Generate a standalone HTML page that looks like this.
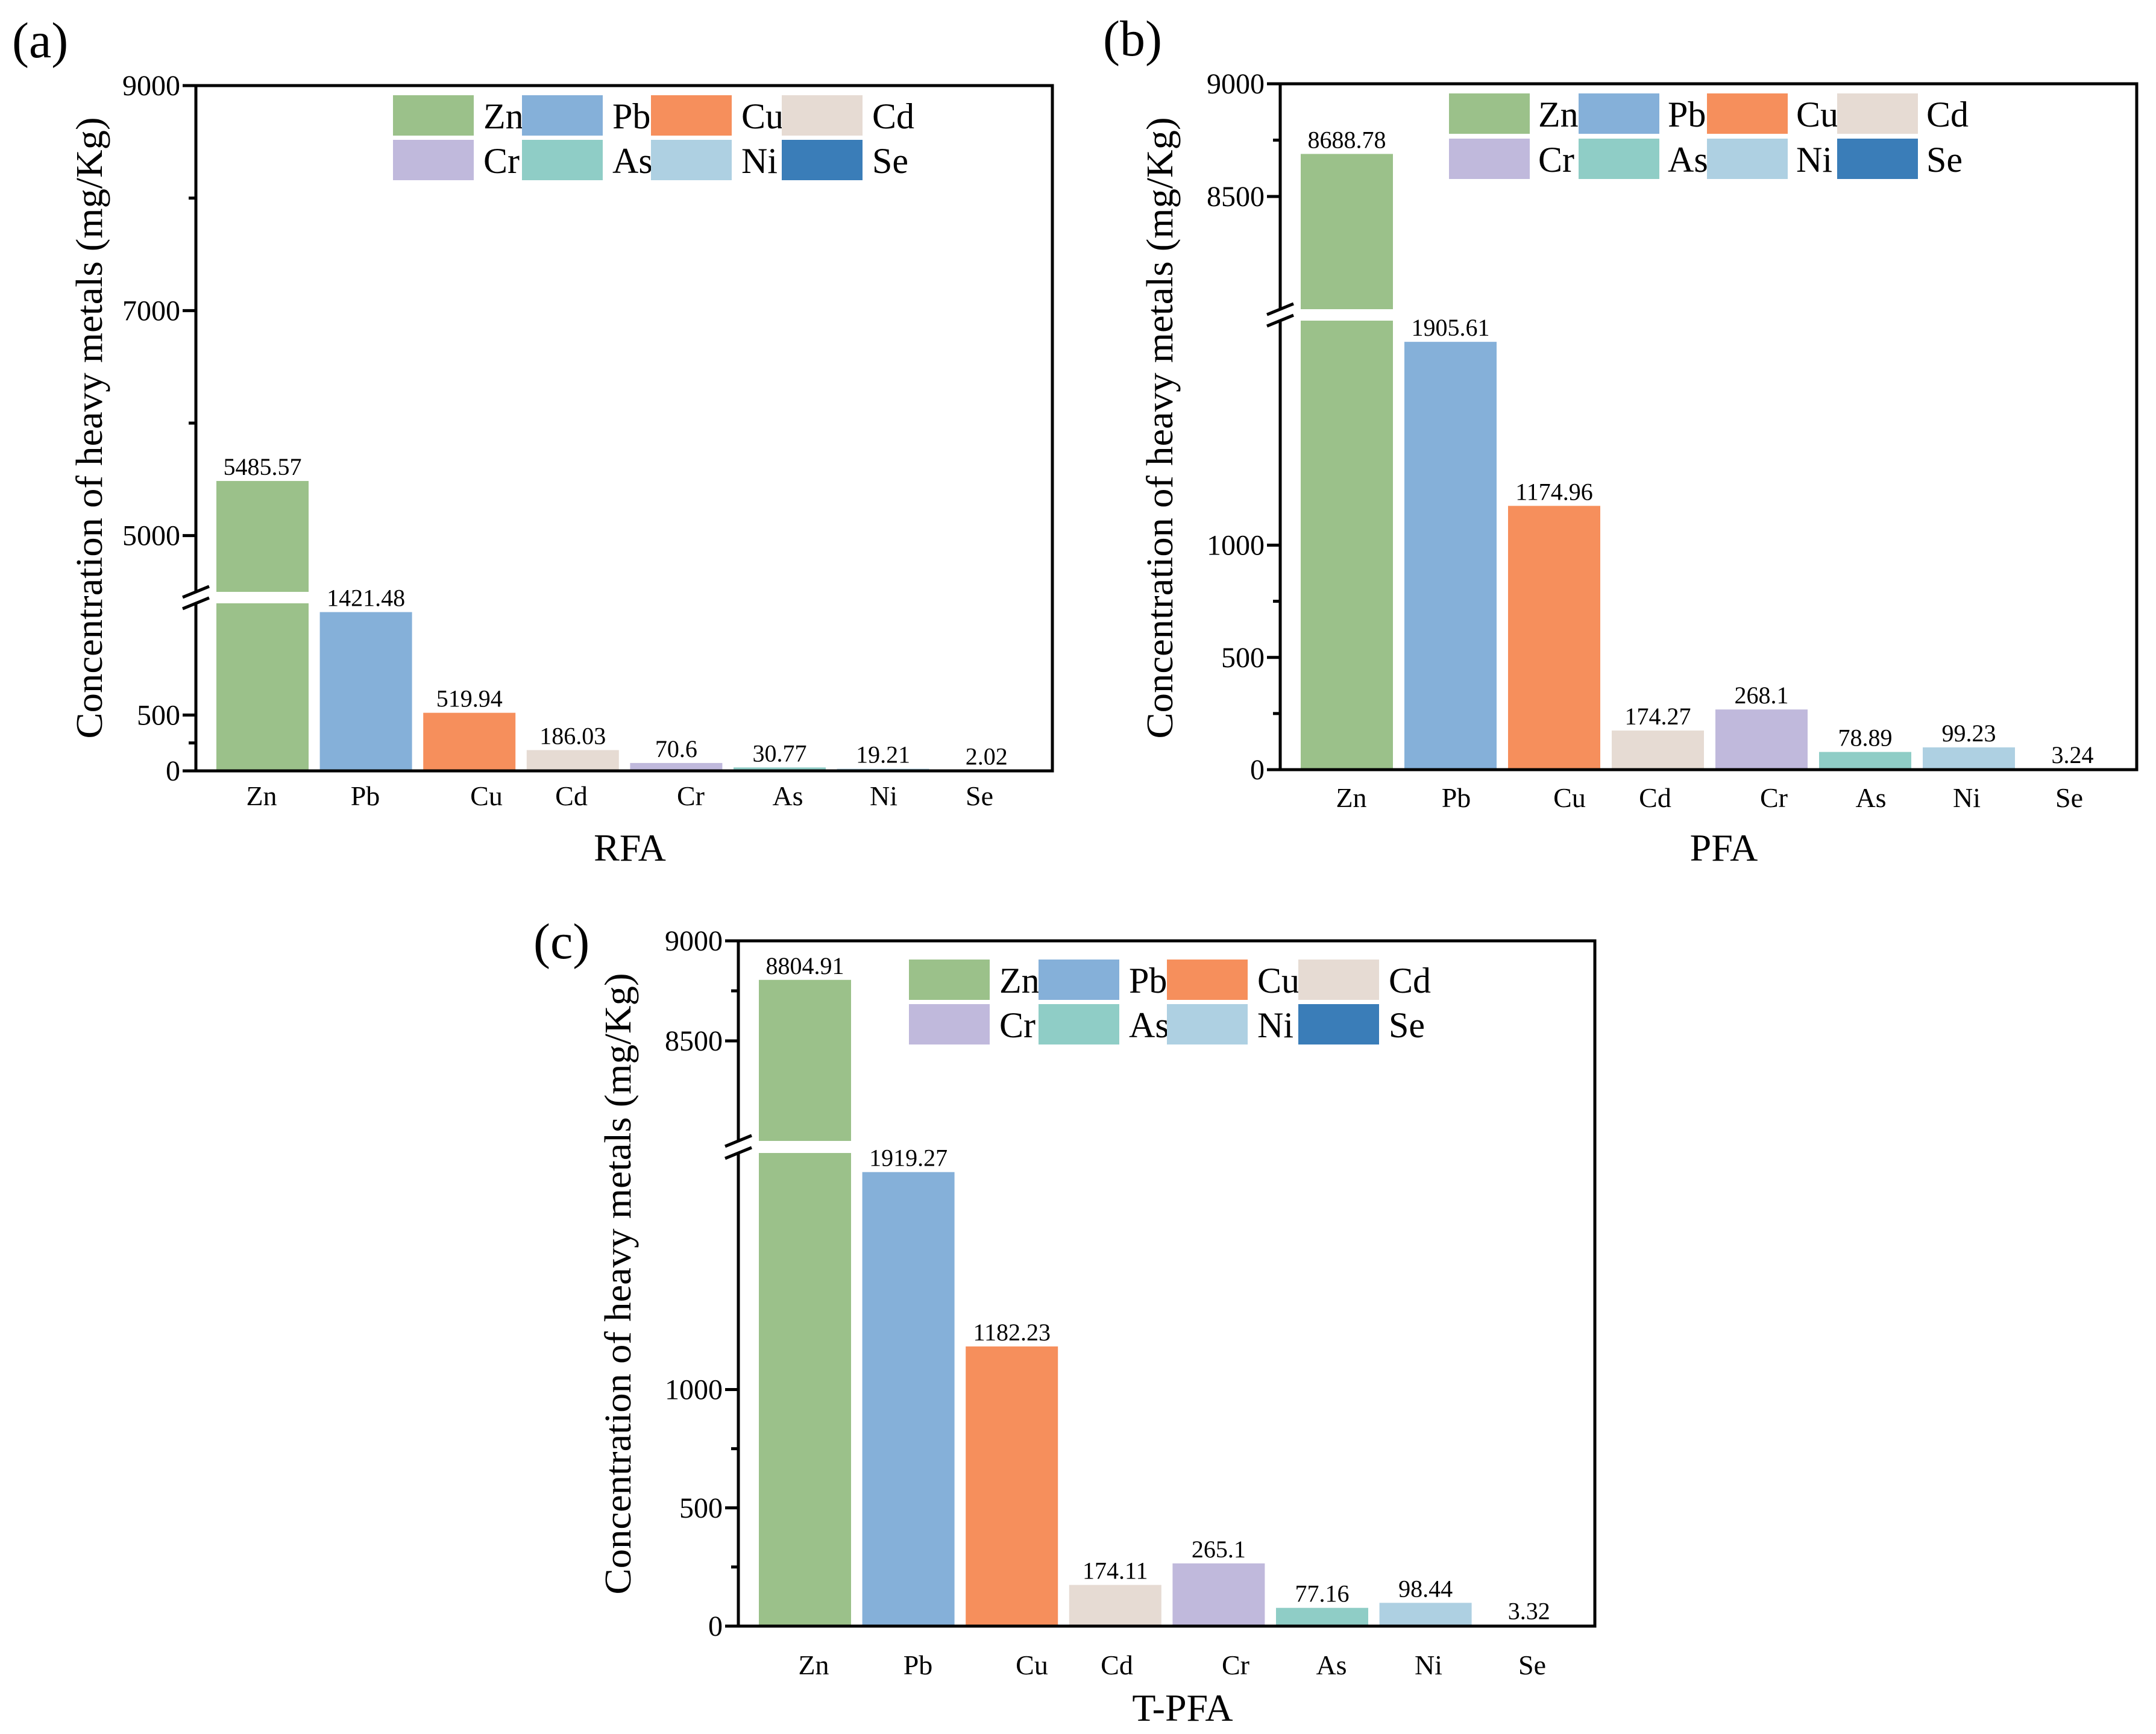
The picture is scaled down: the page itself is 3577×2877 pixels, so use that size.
<!DOCTYPE html>
<html><head><meta charset="utf-8"><style>
html,body{margin:0;padding:0;background:#fff;}
svg{display:block;}
svg text{font-family:"Liberation Serif","Times New Roman",serif;fill:#000;}
</style></head><body>
<svg id="chart" width="3577" height="2877" viewBox="0 0 3577 2877" xmlns="http://www.w3.org/2000/svg"></svg>
<script>
const categories = ["Zn","Pb","Cu","Cd","Cr","As","Ni","Se"];
const colors = ["#9BC18A","#85B0D9","#F68F5C","#E6DBD3","#C0B9DC","#8FCDC6","#AED0E2","#3A7DB8"];
const valuesRFA = [5485.57,1421.48,519.94,186.03,70.6,30.77,19.21,2.02];
const valuesPFA = [8688.78,1905.61,1174.96,174.27,268.1,78.89,99.23,3.24];
const valuesTPFA = [8804.91,1919.27,1182.23,174.11,265.1,77.16,98.44,3.32];
const labelsRFA = ["5485.57","1421.48","519.94","186.03","70.6","30.77","19.21","2.02"];
const labelsPFA = ["8688.78","1905.61","1174.96","174.27","268.1","78.89","99.23","3.24"];
const labelsTPFA = ["8804.91","1919.27","1182.23","174.11","265.1","77.16","98.44","3.32"];
const majorTicksA = [0,500,5000,7000,9000];
const minorTicksA = [250,6000,8000];
const majorTicksBC = [0,500,1000,8500,9000];
const minorTicksBC = [250,750,8750];

const NS="http://www.w3.org/2000/svg";
const FONT='"Liberation Serif", "Times New Roman", serif';
const svg=document.getElementById('chart');
function mk(tag,attrs,parent){const e=document.createElementNS(NS,tag);for(const k in attrs)e.setAttribute(k,attrs[k]);if(tag==='text')e.setAttribute('font-family',FONT);(parent||svg).appendChild(e);return e;}

const panels=[
 {id:'a',letter:'(a)',title:'RFA',vals:valuesRFA,labs:labelsRFA,major:majorTicksA,minor:minorTicksA,
  left:325,right:1746,top:142,bottom:1279,lowMax:1500,lowTop:1001,upMin:4500,upBottom:982,
  barX0:359,pitch:171.6,barW:153,catX:[434,606,807,948,1146,1307,1466,1625],catY:1336,
  titleX:1045,titleY:1428,letterX:20,letterY:95,ytX:149,ytY:710,
  legX:[652,866,1080,1297],legY:[158,232],legTextDx:150},
 {id:'b',letter:'(b)',title:'PFA',vals:valuesPFA,labs:labelsPFA,major:majorTicksBC,minor:minorTicksBC,
  left:2124,right:3545,top:139,bottom:1277,lowMax:2000,lowTop:532,upMin:8000,upBottom:513,
  barX0:2158,pitch:172,barW:153,catX:[2242,2416,2604,2746,2943,3104,3263,3433],catY:1339,
  titleX:2860,titleY:1428,letterX:1830,letterY:92,ytX:1925,ytY:710,
  legX:[2404,2619,2832,3048],legY:[155,230],legTextDx:148},
 {id:'c',letter:'(c)',title:'T-PFA',vals:valuesTPFA,labs:labelsTPFA,major:majorTicksBC,minor:minorTicksBC,
  left:1225,right:2646,top:1561,bottom:2698,lowMax:2000,lowTop:1913,upMin:8000,upBottom:1893,
  barX0:1259,pitch:171.6,barW:153,catX:[1350,1523,1712,1853,2050,2209,2370,2542],catY:2778,
  titleX:1962,titleY:2855,letterX:885,letterY:1590,ytX:1026,ytY:2130,
  legX:[1508,1723,1936,2154],legY:[1592,1666],legTextDx:150}
];

panels.forEach(p=>{
  const g=mk('g',{});
  
  
  const y=v=> v<=p.lowMax ? p.bottom - v*(p.bottom-p.lowTop)/p.lowMax
                          : p.upBottom - (v-p.upMin)*(p.upBottom-p.top)/(9000-p.upMin);
  p.vals.forEach((v,i)=>{
    const x=p.barX0+i*p.pitch;
    if(v<=p.lowMax){
      const r=mk('rect',{x:x,y:y(v),width:p.barW,height:p.bottom-y(v),fill:colors[i]},g);
      
      
    } else {
      const r1=mk('rect',{x:x,y:p.lowTop,width:p.barW,height:p.bottom-p.lowTop,fill:colors[i]},g);
      
      
      const r2=mk('rect',{x:x,y:y(v),width:p.barW,height:p.upBottom-y(v),fill:colors[i]},g);
      
      
    }
    const t=mk('text',{x:x+p.barW/2,y:y(v)-10,'font-size':40,'text-anchor':'middle'},g);
    t.textContent=p.labs[i];
    
    
    const c=mk('text',{x:p.catX[i],y:p.catY,'font-size':46,'text-anchor':'middle'},g);
    c.textContent=categories[i];
    
    
  });
  const fr=mk('path',{d:`M${p.left},${p.top} H${p.right} V${p.bottom} H${p.left} Z`,fill:'none',stroke:'#000','stroke-width':5},g);
  
  
  mk('rect',{x:p.left-8,y:p.upBottom,width:16,height:p.lowTop-p.upBottom,fill:'#fff'},g);
  const b1=mk('line',{x1:p.left-22,y1:p.upBottom+9,x2:p.left+22,y2:p.upBottom-9,stroke:'#000','stroke-width':5},g);
  
  
  const b2=mk('line',{x1:p.left-22,y1:p.lowTop+9,x2:p.left+22,y2:p.lowTop-9,stroke:'#000','stroke-width':5},g);
  
  
  p.major.forEach(v=>{
    const tk=mk('line',{x1:p.left-22,y1:y(v),x2:p.left,y2:y(v),stroke:'#000','stroke-width':5},g);
    
    
    const tl=mk('text',{x:p.left-26,y:y(v)+16,'font-size':48,'text-anchor':'end'},g);
    tl.textContent=String(v);
    
    
  });
  p.minor.forEach(v=>{
    const tk=mk('line',{x1:p.left-12,y1:y(v),x2:p.left,y2:y(v),stroke:'#000','stroke-width':5},g);
    
    
  });
  const yt=mk('text',{x:0,y:0,'font-size':62,'text-anchor':'middle',textLength:1031,lengthAdjust:'spacingAndGlyphs',transform:`translate(${p.ytX+20},${p.ytY}) rotate(-90)`},g);
  yt.textContent='Concentration of heavy metals (mg/Kg)';
  
  
  const xt=mk('text',{x:p.titleX,y:p.titleY,'font-size':64,'text-anchor':'middle'},g);
  xt.textContent=p.title;
  
  
  const lt=mk('text',{x:p.letterX,y:p.letterY,'font-size':84},g);
  lt.textContent=p.letter;
  
  
  categories.forEach((c,i)=>{
    const col=i%4,row=Math.floor(i/4);
    const lx=p.legX[col],ly=p.legY[row];
    const lr=mk('rect',{x:lx,y:ly,width:134,height:67,fill:colors[i]},g);
    
    
    const ltx=mk('text',{x:lx+p.legTextDx,y:ly+55,'font-size':60},g);
    ltx.textContent=c;
    
    
  });
});
</script>
</body></html>
